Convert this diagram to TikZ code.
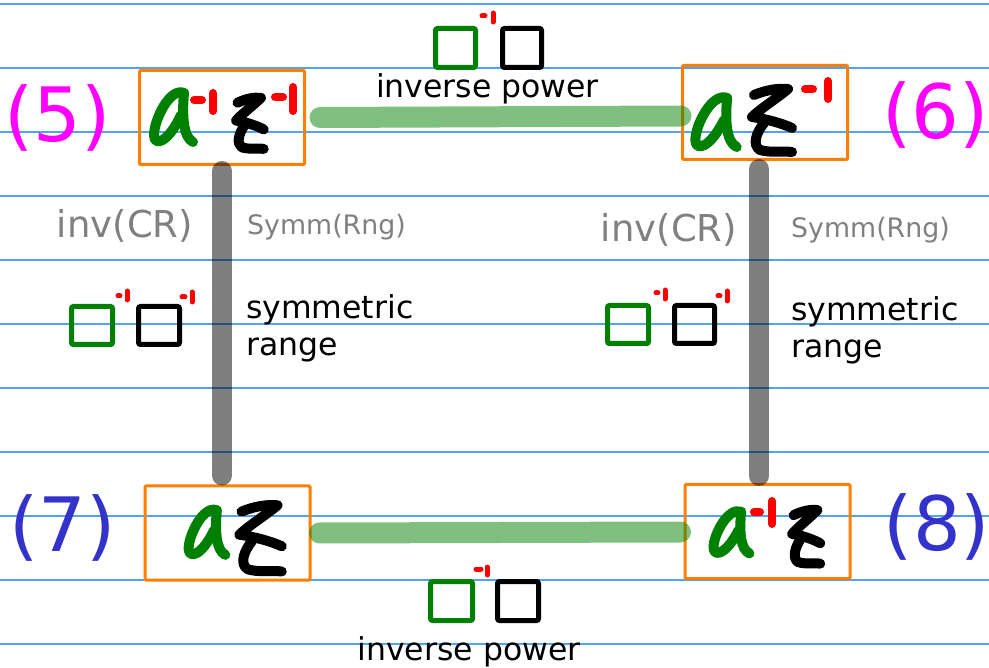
\documentclass[tikz,border=0pt]{standalone}
\usepackage{fontspec}
\setmainfont{DejaVu Sans}
\usetikzlibrary{calc}
\definecolor{rulecol}{HTML}{4DA3FF}
\definecolor{org}{HTML}{FF8000}
\definecolor{inkgreen}{HTML}{008000}
\definecolor{inkred}{HTML}{FF0000}
\definecolor{mag}{HTML}{FF00FF}
\definecolor{lblue}{HTML}{3333CC}
\definecolor{txtgray}{HTML}{808080}
\tikzset{
  ruled/.style={draw=rulecol,line width=1.3},
  ibox/.style={draw=org,line width=3,rounded corners=1,minimum width=165,minimum height=94,inner sep=0},
  gbar/.style={draw=inkgreen,draw opacity=0.5,line width=21,line cap=round},
  graybar/.style={draw=black,draw opacity=0.5,line width=20,line cap=round},
  inka/.style={draw=inkgreen,line width=10,line cap=round,line join=round},
  inkz/.style={draw=black,line width=10,line cap=round,line join=round},
  inkr/.style={draw=inkred,line cap=round},
  sqg/.style={draw=inkgreen,line width=5,rounded corners=2},
  sqk/.style={draw=black,line width=5,rounded corners=2},
  bigtxt/.style={font=\fontsize{31.5}{37}\selectfont,inner sep=0},
  numtxt/.style={font=\fontsize{75}{80}\selectfont,inner sep=0,anchor=base},
  invtxt/.style={font=\fontsize{37}{42}\selectfont,text=txtgray,inner sep=0,anchor=base},
  symtxt/.style={font=\fontsize{26.8}{31}\selectfont,text=txtgray,inner sep=0,anchor=base},
}
\newcommand\handA[4]{\begin{scope}[shift={(#1,#2)},xscale=#3,yscale=#4]
 \draw[inka] (36,8) .. controls (22,2) and (6,35) .. (6,50) .. controls (6,62) and (20,58) .. (33,30);
 \draw[inka] (36,8) .. controls (34,30) and (35,52) .. (45,57);
\end{scope}}
\newcommand\handZ[4]{\begin{scope}[shift={(#1,#2)},xscale=#3,yscale=#4]
 \draw[inkz] (8,12) .. controls (20,7) and (32,5) .. (42,6) .. controls (30,16) and (14,26) .. (6,34) .. controls (20,36) and (35,40) .. (46,45);
 \draw[inkz] (18,40) .. controls (10,50) and (6,62) .. (14,67) .. controls (24,70) and (38,68) .. (46,69);
\end{scope}}
\newcommand\negone[7]{\draw[inkr,line width=#7] (#1,#3) -- (#2,#3) (#4,#5) -- (#4,#6);}
\begin{document}
\begin{tikzpicture}[x=1pt,y=-1pt]
\useasboundingbox (0,0) rectangle (989,668);
% ruled lines
\foreach \yy in {4,68,132,196,260,324,388,452,516,580,644}
  \draw[ruled] (0,\yy) -- (989,\yy);
% boxes
\node[ibox] (b5) at (222,117.5) {};
\node[ibox] (b6) at (765,112.5) {};
\node[ibox] (b7) at (227.5,533) {};
\node[ibox] (b8) at (767.5,531.5) {};
% connectors
\draw[gbar] ($(b5.east)+(14,0)$) -- ($(b6.west)+(0,3.5)$);
\draw[gbar] ($(b7.east)+(8,0)$) -- ($(b8.west)+(-3,0.5)$);
\draw[graybar] ($(b5.south)+(0,5)$) -- ($(b7.north)+(-5.5,-9)$);
\draw[graybar] ($(b6.south)+(-6,8)$) -- ($(b8.north)+(-8.5,-7)$);
% handwriting in boxes
\handA{148}{85}{1}{1}
\negone{194}{202}{100}{213}{93}{111}{8}
\handZ{232}{93}{0.69}{0.81}
\negone{275}{283}{97}{293}{87}{111}{8}
\handA{689}{90}{1.06}{1}
\handZ{746}{83}{1}{1}
\negone{805}{813}{89}{828}{81}{99}{8}
\handA{708}{505}{0.92}{0.85}
\negone{754}{760}{512}{772}{501}{524}{8}
\handZ{788}{505}{0.7}{0.85}
\handA{183}{503}{0.94}{0.91}
\handZ{233}{499}{1.06}{1.05}
% labels
\node[numtxt,text=mag] (n5) at (57.5,142) {(5)};
\node[numtxt,text=mag] (n6) at (935.5,139) {(6)};
\node[numtxt,text=lblue] (n7) at (62.5,551) {(7)};
\node[numtxt,text=lblue] (n8) at (937,550) {(8)};
% top icon + label
\draw[sqg] (435.5,28.5) rectangle (475.5,67.5);
\draw[sqk] (502.5,28.5) rectangle (541.5,67.5);
\negone{482}{485}{16}{493}{13}{22}{5}
\node[bigtxt,anchor=base] (tp) at (487.5,98) {inverse power};
% bottom icon + label
\draw[sqg] (430.5,581.5) rectangle (472.5,620.5);
\draw[sqk] (497.5,581.5) rectangle (538.5,620.5);
\negone{476}{481}{569}{487}{567}{575}{5}
\node[bigtxt,anchor=base] (bp) at (469,660) {inverse power};
% left side labels
\node[invtxt] (li) at (125,238) {inv(CR)};
\node[symtxt] (ls) at (326.5,235) {Symm(Rng)};
\draw[sqg] (71.5,306.5) rectangle (112.5,344.5);
\draw[sqk] (138.5,306.5) rectangle (179.5,344.5);
\negone{118}{120}{296}{127}{291}{300}{5}
\negone{182}{185}{297}{192}{292}{302}{5}
\node[bigtxt,anchor=north west,align=left] (lr) at (246,294) {symmetric\\range};
% right side labels
\node[invtxt] (ri) at (669,242) {inv(CR)};
\node[symtxt] (rs) at (870.5,238) {Symm(Rng)};
\draw[sqg] (607.5,305.5) rectangle (648.5,343.5);
\draw[sqk] (674.5,305.5) rectangle (714.5,343.5);
\negone{656}{658}{293}{665}{290}{299}{5}
\negone{718}{720}{296}{727}{291}{301}{5}
\node[bigtxt,anchor=north west,align=left] (rr) at (791,296) {symmetric\\range};
\end{tikzpicture}
\end{document}
